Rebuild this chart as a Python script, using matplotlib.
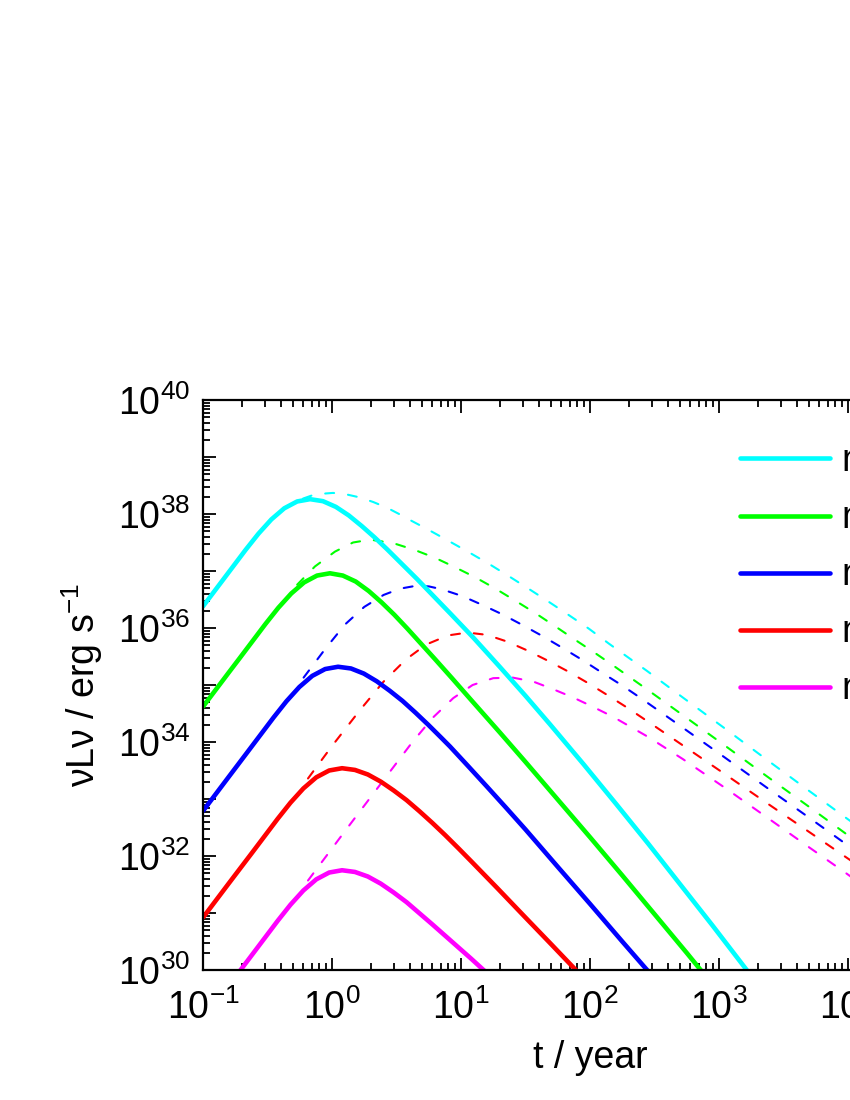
import matplotlib
matplotlib.use("Agg")
import matplotlib.pyplot as plt
import numpy as np
from matplotlib.ticker import FuncFormatter, LogLocator

plt.rcParams["font.family"] = ["Liberation Sans", "DejaVu Sans"]
plt.rcParams["mathtext.fontset"] = "custom"
plt.rcParams["mathtext.rm"] = "Liberation Sans"
plt.rcParams["mathtext.it"] = "Liberation Sans:italic"
plt.rcParams["mathtext.bf"] = "Liberation Sans:bold"

# values, as log10(t / year) and log10(nuLnu / erg s^-1)
labels = ["n = 10$^{4}$ cm$^{-3}$", "n = 10$^{3}$ cm$^{-3}$", "n = 10$^{2}$ cm$^{-3}$",
          "n = 10 cm$^{-3}$", "n = 1 cm$^{-3}$"]
colors = ["#00ffff", "#00ff00", "#0000ff", "#ff0000", "#ff00ff"]

# solid curves
cyan_t = [-1.0, -0.9, -0.77, -0.67, -0.57, -0.47, -0.37, -0.27, -0.17, -0.07, 0.03,
          0.13, 0.23, 0.33, 0.43, 0.53, 0.659, 0.915, 1.1, 1.3, 1.5, 1.69, 1.95, 2.2,
          2.45, 2.7, 2.95, 3.225, 3.3]
cyan_L = [36.38, 36.68, 37.07, 37.37, 37.655, 37.905, 38.10, 38.22, 38.26, 38.225, 38.125,
          37.975, 37.79, 37.59, 37.375, 37.15, 36.86, 36.26, 35.82, 35.32, 34.81, 34.31,
          33.61, 32.92, 32.22, 31.50, 30.78, 29.97, 29.75]
green_t = [-1.0, -0.9, -0.8, -0.716, -0.616, -0.516, -0.416, -0.316, -0.216, -0.116,
           -0.016, 0.084, 0.184, 0.284, 0.384, 0.484, 0.584, 0.684, 0.8, 0.93, 1.093,
           1.3, 1.5, 1.75, 2.0, 2.25, 2.5, 2.75, 2.876, 2.95]
green_L = [34.62, 34.92, 35.22, 35.47, 35.77, 36.07, 36.355, 36.605, 36.80, 36.92,
           36.96, 36.92, 36.815, 36.65, 36.45, 36.23, 35.99, 35.74, 35.45, 35.12, 34.70,
           34.17, 33.65, 32.99, 32.33, 31.66, 30.98, 30.30, 29.95, 29.74]
blue_t = [-1.0, -0.9, -0.8, -0.653, -0.553, -0.453, -0.353, -0.253, -0.153, -0.053,
          0.047, 0.147, 0.247, 0.347, 0.447, 0.547, 0.647, 0.747, 0.847, 0.915, 1.05,
          1.2, 1.35, 1.5, 1.75, 2.0, 2.25, 2.45, 2.5]
blue_L = [32.79, 33.09, 33.39, 33.83, 34.13, 34.43, 34.715, 34.965, 35.16, 35.28,
          35.32, 35.29, 35.20, 35.065, 34.90, 34.72, 34.515, 34.30, 34.075, 33.92, 33.59,
          33.22, 32.845, 32.465, 31.81, 31.16, 30.50, 29.98, 29.85]
red_t = [-1.0, -0.9, -0.8, -0.622, -0.522, -0.422, -0.322, -0.222, -0.122, -0.022,
         0.078, 0.178, 0.278, 0.378, 0.478, 0.578, 0.678, 0.778, 0.878, 0.978, 1.078,
         1.28, 1.5, 1.7, 1.907, 1.95]
red_L = [30.92, 31.22, 31.52, 32.05, 32.35, 32.65, 32.935, 33.185, 33.38, 33.50,
         33.54, 33.51, 33.43, 33.305, 33.15, 32.98, 32.785, 32.58, 32.365, 32.14, 31.91,
         31.44, 30.92, 30.45, 29.96, 29.86]
mag_t = [-0.75, -0.722, -0.622, -0.522, -0.422, -0.322, -0.222, -0.122, -0.022, 0.078,
         0.178, 0.278, 0.378, 0.478, 0.578, 0.678, 0.778, 0.878, 0.978, 1.078, 1.17, 1.25]
mag_L = [29.88, 29.96, 30.26, 30.56, 30.86, 31.145, 31.395, 31.59, 31.71, 31.75,
         31.72, 31.64, 31.515, 31.36, 31.19, 30.995, 30.80, 30.60, 30.40, 30.20, 30.01, 29.85]

# dashed curves
cyan_dt = [-0.225, -0.15, -0.05, 0.008, 0.1, 0.217, 0.32, 0.426, 0.52, 0.6, 0.75, 0.91,
           1.06, 1.22, 1.37, 1.53, 1.68, 1.84, 1.99, 2.15, 2.44, 2.72, 3.05, 3.37, 3.7,
           3.99, 4.1]
cyan_dL = [38.27, 38.33, 38.36, 38.37, 38.35, 38.29, 38.21, 38.11, 38.0, 37.9, 37.72,
           37.52, 37.33, 37.12, 36.91, 36.68, 36.46, 36.22, 35.99, 35.72, 35.25, 34.78,
           34.23, 33.69, 33.14, 32.66, 32.48]
green_dt = [-0.27, -0.132, 0.023, 0.163, 0.295, 0.473, 0.64, 0.8, 0.95, 1.11, 1.26, 1.42,
            1.57, 1.73, 1.88, 2.04, 2.2, 2.45, 2.72, 3.05, 3.37, 3.7, 3.99, 4.1]
green_dL = [36.76, 37.08, 37.34, 37.5, 37.55, 37.49, 37.37, 37.23, 37.07, 36.89, 36.70,
            36.48, 36.27, 36.03, 35.80, 35.56, 35.31, 34.91, 34.47, 33.93, 33.40, 32.86,
            32.38, 32.2]
blue_dt = [-0.22, -0.05, 0.1, 0.25, 0.4, 0.527, 0.65, 0.75, 0.85, 1.01, 1.16, 1.32, 1.47,
           1.63, 1.78, 1.94, 2.09, 2.25, 2.4, 2.72, 3.05, 3.37, 3.7, 3.99, 4.1]
blue_dL = [35.13, 35.64, 36.06, 36.37, 36.58, 36.69, 36.74, 36.73, 36.68, 36.56, 36.41,
           36.24, 36.06, 35.86, 35.66, 35.44, 35.22, 34.99, 34.76, 34.25, 33.72, 33.2,
           32.67, 32.2, 32.02]
red_dt = [-0.186, 0.0, 0.217, 0.4, 0.574, 0.73, 0.9, 1.05, 1.2, 1.36, 1.51, 1.67, 1.82,
          1.98, 2.13, 2.29, 2.5, 2.72, 3.05, 3.37, 3.7, 3.99, 4.1]
red_dL = [33.36, 33.93, 34.56, 35.06, 35.45, 35.71, 35.87, 35.92, 35.88, 35.76, 35.61,
          35.43, 35.25, 35.04, 34.83, 34.6, 34.28, 33.94, 33.43, 32.93, 32.42, 31.97, 31.8]
mag_dt = [-0.186, 0.085, 0.426, 0.62, 0.783, 0.94, 1.09, 1.25, 1.4, 1.56, 1.71, 1.87,
          2.02, 2.18, 2.45, 2.72, 3.05, 3.37, 3.7, 3.99, 4.1]
mag_dL = [31.57, 32.39, 33.41, 33.99, 34.43, 34.77, 35.0, 35.12, 35.13, 35.06, 34.93,
          34.78, 34.62, 34.44, 34.09, 33.70, 33.19, 32.68, 32.15, 31.69, 31.51]

solid = [(cyan_t, cyan_L), (green_t, green_L), (blue_t, blue_L), (red_t, red_L), (mag_t, mag_L)]
dashed = [(cyan_dt, cyan_dL), (green_dt, green_dL), (blue_dt, blue_dL),
          (red_dt, red_dL), (mag_dt, mag_dL)]

fig = plt.figure(figsize=(8.5, 11), dpi=100)
ax = fig.add_axes([203 / 850, 1 - 970 / 1100, 774 / 850, 570 / 1100])
ax.set_xscale("log")
ax.set_yscale("log")

for (lt, lL), c in zip(dashed, colors):
    ax.plot(10 ** np.array(lt), 10 ** np.array(lL), color=c, lw=1.5,
            dashes=(4.3, 6.7), dash_capstyle="round")

handles = []
for (lt, lL), c, lab in zip(solid, colors, labels):
    h, = ax.plot(10 ** np.array(lt), 10 ** np.array(lL), color=c, lw=3.3,
                 solid_capstyle="round", solid_joinstyle="round", label=lab)
    handles.append(h)

ax.set_xlim(1e-1, 1e5)
ax.set_ylim(1e30, 1e40)

for axis in (ax.xaxis, ax.yaxis):
    axis.set_major_locator(LogLocator(base=10, numticks=30))
    axis.set_minor_locator(LogLocator(base=10, subs=np.arange(2, 10), numticks=30))

ax.xaxis.set_major_formatter(FuncFormatter(
    lambda v, pos: "$10^{%d}$" % int(round(np.log10(v)))))
ax.yaxis.set_major_formatter(FuncFormatter(
    lambda v, pos: "$10^{%d}$" % int(round(np.log10(v)))
    if int(round(np.log10(v))) % 2 == 0 else ""))

ax.tick_params(which="both", direction="in", top=True, right=True, width=1.3,
               labelsize=27)
ax.tick_params(which="major", length=9)
ax.tick_params(which="minor", length=5)
ax.tick_params(axis="y", pad=9)
ax.tick_params(axis="x", pad=14)
for s in ax.spines.values():
    s.set_linewidth(1.6)

ax.set_xlabel("t / year", fontsize=27, labelpad=9)
ax.set_ylabel("νLν / erg s$^{-1}$", fontsize=27, labelpad=9)

ax.legend(handles=handles, loc="upper left", bbox_to_anchor=(740 / 850, 1 - 442 / 1100),
          bbox_transform=fig.transFigure, frameon=False, fontsize=27,
          handlelength=2.4, handletextpad=0.3, labelspacing=0.52, borderpad=0,
          borderaxespad=0)

fig.savefig("out.png", dpi=100)
